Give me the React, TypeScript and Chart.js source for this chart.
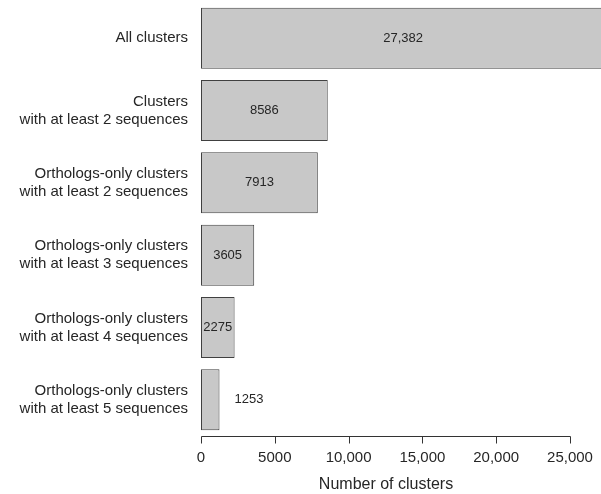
import { useEffect, useRef } from "react";
import { Chart, registerables } from "chart.js";

Chart.register(...registerables);

const categories: string[][] = [
  ["All clusters"],
  ["Clusters", "with at least 2 sequences"],
  ["Orthologs-only clusters", "with at least 2 sequences"],
  ["Orthologs-only clusters", "with at least 3 sequences"],
  ["Orthologs-only clusters", "with at least 4 sequences"],
  ["Orthologs-only clusters", "with at least 5 sequences"],
];
const counts = [27382, 8586, 7913, 3605, 2275, 1253];
const valueLabels = ["27,382", "8586", "7913", "3605", "2275", "1253"];
const xTicks = [0, 5000, 10000, 15000, 20000, 25000];
const xTickLabels = ["0", "5000", "10,000", "15,000", "20,000", "25,000"];
const xTitle = "Number of clusters";

const FONT = "'Liberation Sans', Arial, Helvetica, sans-serif";
const TEXT = "#262626";
const LINE = "#333333";

export default function App() {
  const ref = useRef<HTMLCanvasElement | null>(null);

  useEffect(() => {
    if (!ref.current) return;
    Chart.defaults.font.family = FONT;

    const overlay = {
      id: "overlay",
      afterDraw(chart: any) {
        const ctx = chart.ctx as CanvasRenderingContext2D;
        const xs = chart.scales.x;
        const area = chart.chartArea;
        ctx.save();
        const y0 = Math.round(area.bottom) + 0.5;
        const xa = Math.round(xs.getPixelForValue(xTicks[0])) + 0.5;
        const xb = Math.round(xs.getPixelForValue(xTicks[xTicks.length - 1])) + 0.5;
        ctx.strokeStyle = LINE;
        ctx.lineWidth = 1;
        ctx.beginPath();
        ctx.moveTo(xa, y0);
        ctx.lineTo(xb, y0);
        xTicks.forEach((t) => {
          const px = Math.round(xs.getPixelForValue(t)) + 0.5;
          ctx.moveTo(px, y0);
          ctx.lineTo(px, y0 + 7);
        });
        ctx.stroke();
        ctx.fillStyle = TEXT;
        ctx.font = `16px ${FONT}`;
        ctx.textAlign = "center";
        ctx.textBaseline = "middle";
        ctx.fillText(xTitle, (xa + xb) / 2, 485);
        ctx.font = `13px ${FONT}`;
        const meta = chart.getDatasetMeta(0);
        meta.data.forEach((bar: any, i: number) => {
          const label = valueLabels[i];
          const w = ctx.measureText(label).width;
          const barW = Math.abs(bar.x - bar.base);
          if (w + 3 < barW) {
            ctx.textAlign = "center";
            ctx.fillText(label, (bar.x + bar.base) / 2, bar.y);
          } else {
            ctx.textAlign = "left";
            ctx.fillText(label, bar.x + 15, bar.y);
          }
        });
        ctx.restore();
      },
    };

    const chart = new Chart(ref.current, {
      type: "bar",
      data: {
        labels: categories,
        datasets: [
          {
            data: counts,
            backgroundColor: "#c8c8c8",
            borderColor: "#404040",
            borderWidth: 1,
            borderSkipped: false,
            barPercentage: 0.843,
            categoryPercentage: 1,
          },
        ],
      },
      options: {
        indexAxis: "y",
        responsive: false,
        animation: false,
        devicePixelRatio: 1,
        layout: { padding: { top: 2, left: 0, right: 0, bottom: 0 } },
        plugins: {
          legend: { display: false },
          tooltip: { enabled: false },
        },
        scales: {
          y: {
            type: "category",
            grid: { display: false, drawTicks: false },
            border: { display: false },
            ticks: {
              font: { size: 15, lineHeight: 1.2 },
              color: TEXT,
              padding: 13,
            },
            afterFit(s: any) {
              s.width = 201;
              s.paddingTop = 0;
              s.paddingBottom = 0;
            },
          },
          x: {
            type: "linear",
            min: 0,
            max: 27100,
            grid: { display: false, drawTicks: false },
            border: { display: false },
            afterBuildTicks(s: any) {
              s.ticks = xTicks.map((v) => ({ value: v }));
            },
            ticks: {
              font: { size: 15 },
              color: TEXT,
              padding: 13,
              maxRotation: 0,
              autoSkip: false,
              callback: (v: any) => {
                const i = xTicks.indexOf(Number(v));
                return i >= 0 ? xTickLabels[i] : "";
              },
            },
            afterFit(s: any) {
              s.height = 58;
              s.paddingLeft = 0;
              s.paddingRight = 0;
            },
          },
        },
      },
      plugins: [overlay],
    });
    return () => chart.destroy();
  }, []);

  return (
    <div style={{ position: "absolute", left: 0, top: 0, width: 601, height: 494, background: "#fff" }}>
      <canvas ref={ref} width={601} height={494} style={{ display: "block" }} />
    </div>
  );
}
